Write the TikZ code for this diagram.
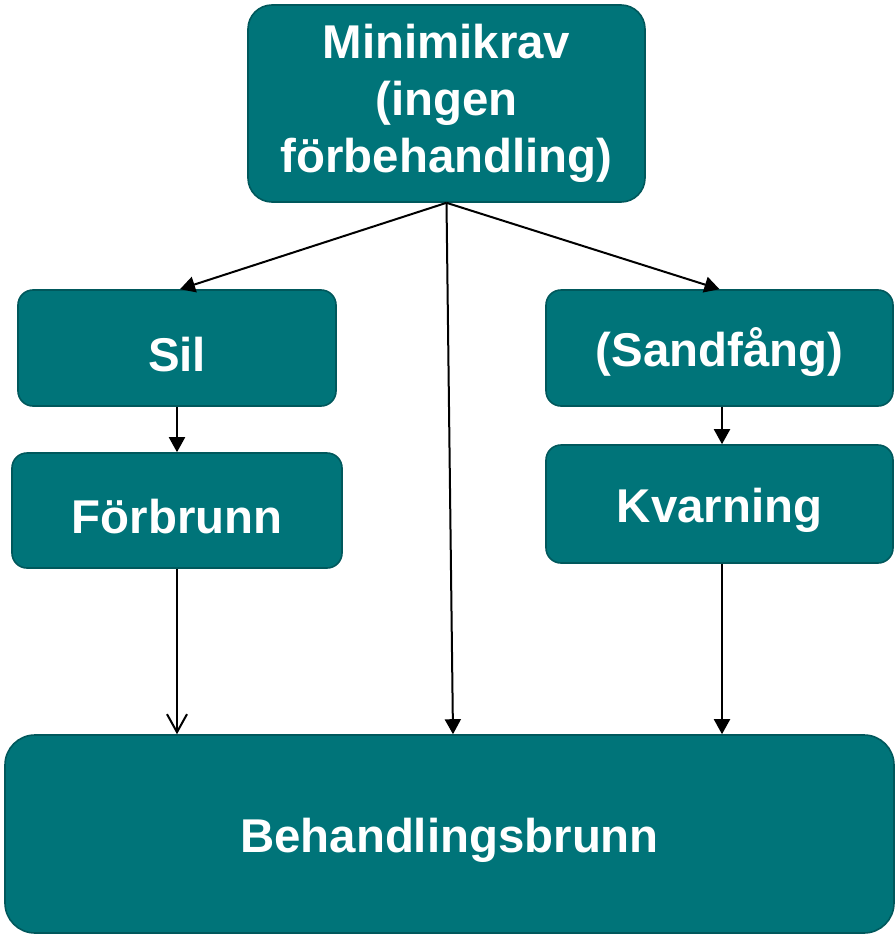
\documentclass[tikz,border=0pt]{standalone}
\usepackage{fontspec}
\setmainfont{Liberation Sans}
\usetikzlibrary{arrows.meta}
\definecolor{teal}{RGB}{0,116,121}
\definecolor{tealedge}{RGB}{0,88,92}
\begin{document}
\begin{tikzpicture}[x=0.5pt,y=-0.5pt,line width=1pt,
        box/.style={draw=tealedge,line width=0.8pt,fill=teal,text=white,rounded corners=7.5pt,
            font=\fontsize{23.7}{28.5}\selectfont\bfseries,align=center,inner sep=0pt,
            execute at begin node=\rule{0pt}{23.5pt}},
        >={Triangle[length=7.5pt,width=8pt]}]
            \useasboundingbox(0,0)rectangle(895,937);
            \node[box,minimum width=198.5pt,minimum height=98.5pt,rounded corners=12pt](minimikrav)at(446.5,103.5){Minimikrav\\(ingen\\f\"orbehandling)};
            \node[box,minimum width=159pt,minimum height=58pt](sil)at(177,348){Sil};
            \node[box,minimum width=173.5pt,minimum height=58pt](sandfang)at(719.5,348){(Sandf\aa ng)};
            \node[box,minimum width=165pt,minimum height=57.5pt](forbrunn)at(177,510.5){F\"orbrunn};
            \node[box,minimum width=173.5pt,minimum height=59pt](kvarning)at(719.5,504){Kvarning};
            \node[box,minimum width=444.5pt,minimum height=99pt,rounded corners=15pt](behandling)at(449.5,834){Behandlingsbrunn};
            \draw[->](minimikrav.south)--([xshift=1.5pt]sil.north);
            \draw[->](minimikrav.south)--([xshift=1.75pt]behandling.north);
            \draw[->](minimikrav.south)--(sandfang.north);
            \draw[->](sil.south)--(forbrunn.north);
            \draw[->]([xshift=1.25pt]sandfang.south)--([xshift=1.25pt]kvarning.north);
            \draw[-{Straight Barb[length=9pt,width=10pt]}](forbrunn.south)--(forbrunn.south|-behandling.north);
            \draw[->]([xshift=1.25pt]kvarning.south)--([xshift=1.25pt]kvarning.south|-behandling.north);
        \end{tikzpicture}
\end{document}
